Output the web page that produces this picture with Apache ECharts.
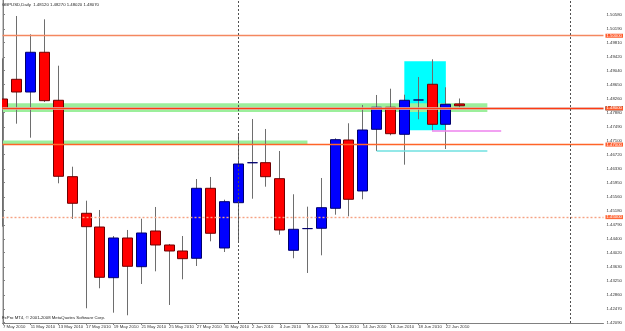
<!DOCTYPE html>
<html>
<head>
<meta charset="utf-8">
<title>GBPUSD,Daily</title>
<script src="https://cdn.jsdelivr.net/npm/echarts@6/dist/echarts.min.js"></script>
<style>
  html, body { margin: 0; padding: 0; background: #fff; }
  #chart { width: 625px; height: 331px; }
</style>
</head>
<body>
<div id="chart"></div>
<script>
// daily bars, 7 May - 23 Jun 2010
const dates = ['7 May 2010', '10 May 2010', '11 May 2010', '12 May 2010', '13 May 2010', '14 May 2010',
  '17 May 2010', '18 May 2010', '19 May 2010', '20 May 2010', '21 May 2010', '24 May 2010',
  '25 May 2010', '26 May 2010', '27 May 2010', '28 May 2010', '31 May 2010', '1 Jun 2010',
  '2 Jun 2010', '3 Jun 2010', '4 Jun 2010', '7 Jun 2010', '8 Jun 2010', '9 Jun 2010',
  '10 Jun 2010', '11 Jun 2010', '14 Jun 2010', '15 Jun 2010', '16 Jun 2010', '17 Jun 2010',
  '18 Jun 2010', '21 Jun 2010', '22 Jun 2010', '23 Jun 2010'];
const open = [1.48256, 1.48799, 1.48449, 1.49544, 1.48221, 1.46115, 1.45106, 1.44728, 1.43331, 1.44425,
  1.43634, 1.44618, 1.44232, 1.44067, 1.43866, 1.45795, 1.44150, 1.45398, 1.46500, 1.46501,
  1.46060, 1.44086, 1.44684, 1.44693, 1.45244, 1.47126, 1.45721, 1.47421, 1.48028, 1.47283,
  1.48229, 1.48662, 1.47559, 1.48120];
const close = [1.48000, 1.48449, 1.49544, 1.48210, 1.46126, 1.45382, 1.44737, 1.43342, 1.44425, 1.43645,
  1.44563, 1.44232, 1.44067, 1.43855, 1.45795, 1.44555, 1.45426, 1.46465, 1.46500, 1.46115,
  1.44646, 1.44665, 1.44684, 1.45260, 1.47135, 1.45492, 1.47402, 1.48028, 1.47300, 1.48221,
  1.48229, 1.47559, 1.48110, 1.48070];
const low = [1.44737, 1.47576, 1.47190, 1.48174, 1.45933, 1.44949, 1.42488, 1.43039, 1.42366, 1.42295,
  1.43157, 1.43507, 1.42579, 1.43287, 1.43653, 1.44334, 1.44039, 1.44334, 1.45508, 1.45839,
  1.44516, 1.43866, 1.43461, 1.43948, 1.45067, 1.45023, 1.45492, 1.46823, 1.47256, 1.46446,
  1.47697, 1.47394, 1.46878, 1.48020];
const high = [1.49378, 1.50544, 1.50040, 1.50453, 1.49174, 1.46390, 1.45453, 1.45197, 1.44480, 1.44646,
  1.44957, 1.45280, 1.44260, 1.44480, 1.46051, 1.46107, 1.45481, 1.47264, 1.47705, 1.47430,
  1.46823, 1.45630, 1.45288, 1.46079, 1.47173, 1.47587, 1.48091, 1.48367, 1.48540, 1.48375,
  1.48863, 1.49351, 1.48579, 1.48270];

// price scale labels on the right
const priceTicks = [1.50580, 1.50190, 1.49810, 1.49420, 1.49040, 1.48650, 1.48260, 1.47880,
  1.47490, 1.47100, 1.46720, 1.46330, 1.45950, 1.45560, 1.45180, 1.44790, 1.44400, 1.44020,
  1.43630, 1.43250, 1.42860, 1.42470, 1.42090];

// objects on the chart
const levels = [1.50000, 1.48000, 1.47000, 1.45000];
const bid = 1.48070;
const zones = [[1.48140, 1.47900, 35], [1.47115, 1.47005, 22]];   // top, bottom, last bar
const box = [29, 32, 1.49300, 1.47394];                              // from bar, to bar, top, bottom
const lowRays = [[27, 35, 1.46823], [31, 36, 1.47394]];             // from bar, to bar, price
const separators = [17, 41];

const FONT = 'Liberation Sans, Arial, sans-serif';
const last = dates.length - 1;
const labelBars = dates.map((d, i) => i).filter(i => i % 2 === 0);
const bars = dates.map((d, i) => [i, open[i], close[i], low[i], high[i]]);

const levelColors = ['#f4875f', '#ff3a12', '#ff6428', '#f6a283'];
const rayColors = ['#6fe0e0', '#ee82ee'];

function renderCandle(params, api) {
  const i = api.value(0);
  const o = api.coord([i, api.value(1)]);
  const c = api.coord([i, api.value(2)]);
  const lo = api.coord([i, api.value(3)]);
  const hi = api.coord([i, api.value(4)]);
  const x = Math.floor(o[0]) + 0.5;
  const w = Math.round(api.size([0.72, 0])[0]);
  const up = api.value(2) >= api.value(1);
  const top = Math.min(o[1], c[1]);
  return {
    type: 'group',
    children: [
      { type: 'line', shape: { x1: x, y1: hi[1], x2: x, y2: lo[1] },
        style: { stroke: '#6e6e6e', lineWidth: 1 } },
      { type: 'rect', shape: { x: x - w / 2, y: top, width: w, height: Math.abs(o[1] - c[1]) },
        style: { fill: up ? '#0000ff' : '#ff0000', stroke: up ? '#00006e' : '#700000', lineWidth: 1 } }
    ]
  };
}

const chart = echarts.init(document.getElementById('chart'));
const option = {
  animation: false,
  backgroundColor: '#ffffff',
  title: [
    {
      text: 'GBPUSD,Daily  ' + [open[last], high[last], low[last], close[last]].map(v => v.toFixed(5)).join(' '),
      left: 2, top: 3, padding: 0,
      textStyle: { fontSize: 4.3, fontWeight: 'normal', color: '#222', fontFamily: FONT }
    },
    {
      text: 'FxPro MT4, \u00a9 2001-2008 MetaQuotes Software Corp.',
      left: 2, top: 316, padding: 0,
      textStyle: { fontSize: 4.3, fontWeight: 'normal', color: '#222', fontFamily: FONT }
    }
  ],
  grid: { left: 1, right: 16, top: 0, bottom: 8 },
  xAxis: {
    type: 'value',
    min: -0.036,
    max: 43.39,
    axisLine: { lineStyle: { color: '#808080' } },
    axisTick: { show: true, length: 2, customValues: labelBars, lineStyle: { color: '#808080' } },
    axisLabel: {
      customValues: labelBars,
      formatter: v => dates[v] || '',
      align: 'left', margin: 2, fontSize: 4.3, color: '#333', fontFamily: FONT
    },
    splitLine: { show: false }
  },
  yAxis: [
    {
      type: 'value',
      position: 'right',
      min: 1.42082,
      max: 1.50985,
      axisLine: { show: true, lineStyle: { color: '#808080' } },
      axisTick: { show: true, length: 2, customValues: priceTicks, lineStyle: { color: '#808080' } },
      axisLabel: {
        customValues: priceTicks,
        formatter: v => v.toFixed(5),
        margin: 3, fontSize: 4.3, color: '#333', fontFamily: FONT
      },
      splitLine: { show: false }
    },
    {
      type: 'value',
      position: 'left',
      min: 1.42082,
      max: 1.50985,
      axisLine: { show: true, lineStyle: { color: '#c8c8c8' } },
      axisTick: { show: false },
      axisLabel: { show: false },
      splitLine: { show: false }
    }
  ],
  series: [
    {
      name: 'bid',
      type: 'line',
      data: [],
      z: 1,
      markLine: {
        silent: true,
        symbol: 'none',
        lineStyle: { color: '#d9d9d9', width: 2.5, type: 'solid' },
        label: {
          show: true, position: 'end', distance: 2,
          formatter: () => bid.toFixed(5),
          backgroundColor: '#000', color: '#fff', padding: [0, 1],
          fontSize: 4.3, fontFamily: FONT
        },
        data: [{ yAxis: bid }]
      }
    },
    {
      name: 'zones',
      type: 'line',
      data: [],
      z: 2,
      markArea: {
        silent: true,
        data: [
          [{ xAxis: box[0], yAxis: box[2], itemStyle: { color: '#00ffff', opacity: 1 } },
           { xAxis: box[1], yAxis: box[3] }]
        ].concat(zones.map(z => [
          { xAxis: -0.036, yAxis: z[0], itemStyle: { color: '#9cef9c', opacity: 1 } },
          { xAxis: z[2], yAxis: z[1] }
        ]))
      }
    },
    {
      name: 'lines',
      type: 'line',
      data: [],
      z: 3,
      markLine: {
        silent: true,
        symbol: 'none',
        label: { show: false },
        data: levels.map((p, k) => ({
          yAxis: p,
          lineStyle: { color: levelColors[k], width: 1.4, type: k === 3 ? [2, 2] : 'solid' },
          label: {
            show: true, position: 'end', distance: 2,
            formatter: () => p.toFixed(5),
            backgroundColor: levelColors[k] === '#f6a283' ? '#ff6a3a' : '#ff5a2a',
            color: '#fff', padding: [0, 1], fontSize: 4.3, fontFamily: FONT
          }
        })).concat(lowRays.map((r, k) => [
          { coord: [r[0], r[2]], lineStyle: { color: rayColors[k], width: 1.5, type: 'solid' } },
          { coord: [r[1], r[2]] }
        ])).concat(separators.map(s => ({
          xAxis: s,
          lineStyle: { color: '#505050', width: 1, type: [2, 2] }
        })))
      }
    },
    {
      name: 'GBPUSD',
      type: 'custom',
      z: 4,
      clip: true,
      renderItem: renderCandle,
      encode: { x: 0, y: [1, 2, 3, 4] },
      data: bars
    }
  ]
};
chart.setOption(option);
</script>
</body>
</html>
